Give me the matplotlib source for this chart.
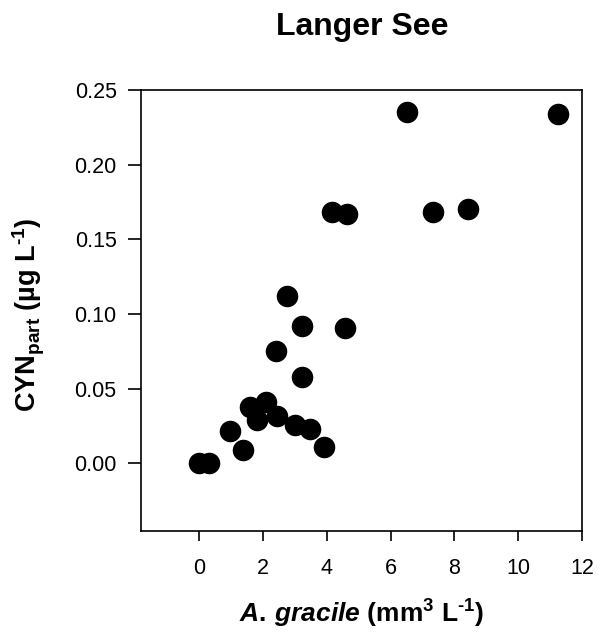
import matplotlib
matplotlib.use("Agg")
import matplotlib.pyplot as plt

plt.rcParams['font.family'] = ['Liberation Sans', 'DejaVu Sans']
plt.rcParams['mathtext.fontset'] = 'custom'
plt.rcParams['mathtext.rm'] = 'Liberation Sans:bold'
plt.rcParams['mathtext.bf'] = 'Liberation Sans:bold'
plt.rcParams['mathtext.it'] = 'Liberation Sans:bold:italic'
plt.rcParams['mathtext.default'] = 'bf'

# A. gracile biovolume (mm3 L-1) vs particulate CYN (ug L-1)
biovolume = [0.02, 0.31, 0.98, 1.38, 1.60, 1.81, 2.10, 2.44, 2.42, 2.77, 3.02,
             3.24, 3.24, 3.48, 3.93, 4.18, 4.63, 4.58, 6.52, 7.33, 8.41, 11.24]
cyn_part = [0.000, 0.000, 0.022, 0.009, 0.038, 0.029, 0.041, 0.032, 0.075, 0.112, 0.026,
            0.092, 0.058, 0.023, 0.011, 0.168, 0.167, 0.091, 0.235, 0.168, 0.170, 0.234]

x_ticks = [0, 2, 4, 6, 8, 10, 12]
y_ticks = [0.00, 0.05, 0.10, 0.15, 0.20, 0.25]

fig = plt.figure(figsize=(5.98, 6.39), dpi=100)
ax = fig.add_axes([0.2363, 0.1695, 0.7375, 0.6897])

ax.plot(biovolume, cyn_part, linestyle='none', marker='o', markersize=14.5,
        markerfacecolor='black', markeredgecolor='black', clip_on=False)

ax.set_xlim(-1.8, 12)
ax.set_ylim(-0.045, 0.25)
ax.set_xticks(x_ticks)
ax.set_xticklabels([str(t) for t in x_ticks])
ax.set_yticks(y_ticks)
ax.set_yticklabels([f"{t:.2f}" for t in y_ticks])

for side in ax.spines.values():
    side.set_linewidth(1.2)
ax.tick_params(axis='x', direction='out', length=7.5, width=1.2, labelsize=15.5,
               pad=12, top=False)
ax.tick_params(axis='y', direction='out', length=9.5, width=1.2, labelsize=15.5,
               pad=8.2, right=False)

ax.set_title('Langer See', fontsize=23, fontweight='bold', y=1.1248, pad=0,
             va='baseline')
ax.set_xlabel(r'$\mathit{A.\,gracile}$ (mm$^{3}$ L$^{\text{-1}}$)', fontsize=19,
              fontweight='bold', va='baseline')
ax.xaxis.set_label_coords(0.5, -0.2094)
ax.set_ylabel(r'CYN$_{part}$ (µg L$^{\text{-1}}$)', fontsize=19.5,
              fontweight='bold', va='center', ha='center')
ax.yaxis.set_label_coords(-0.2546, 0.4895)

fig.savefig('out.png', dpi=100)
